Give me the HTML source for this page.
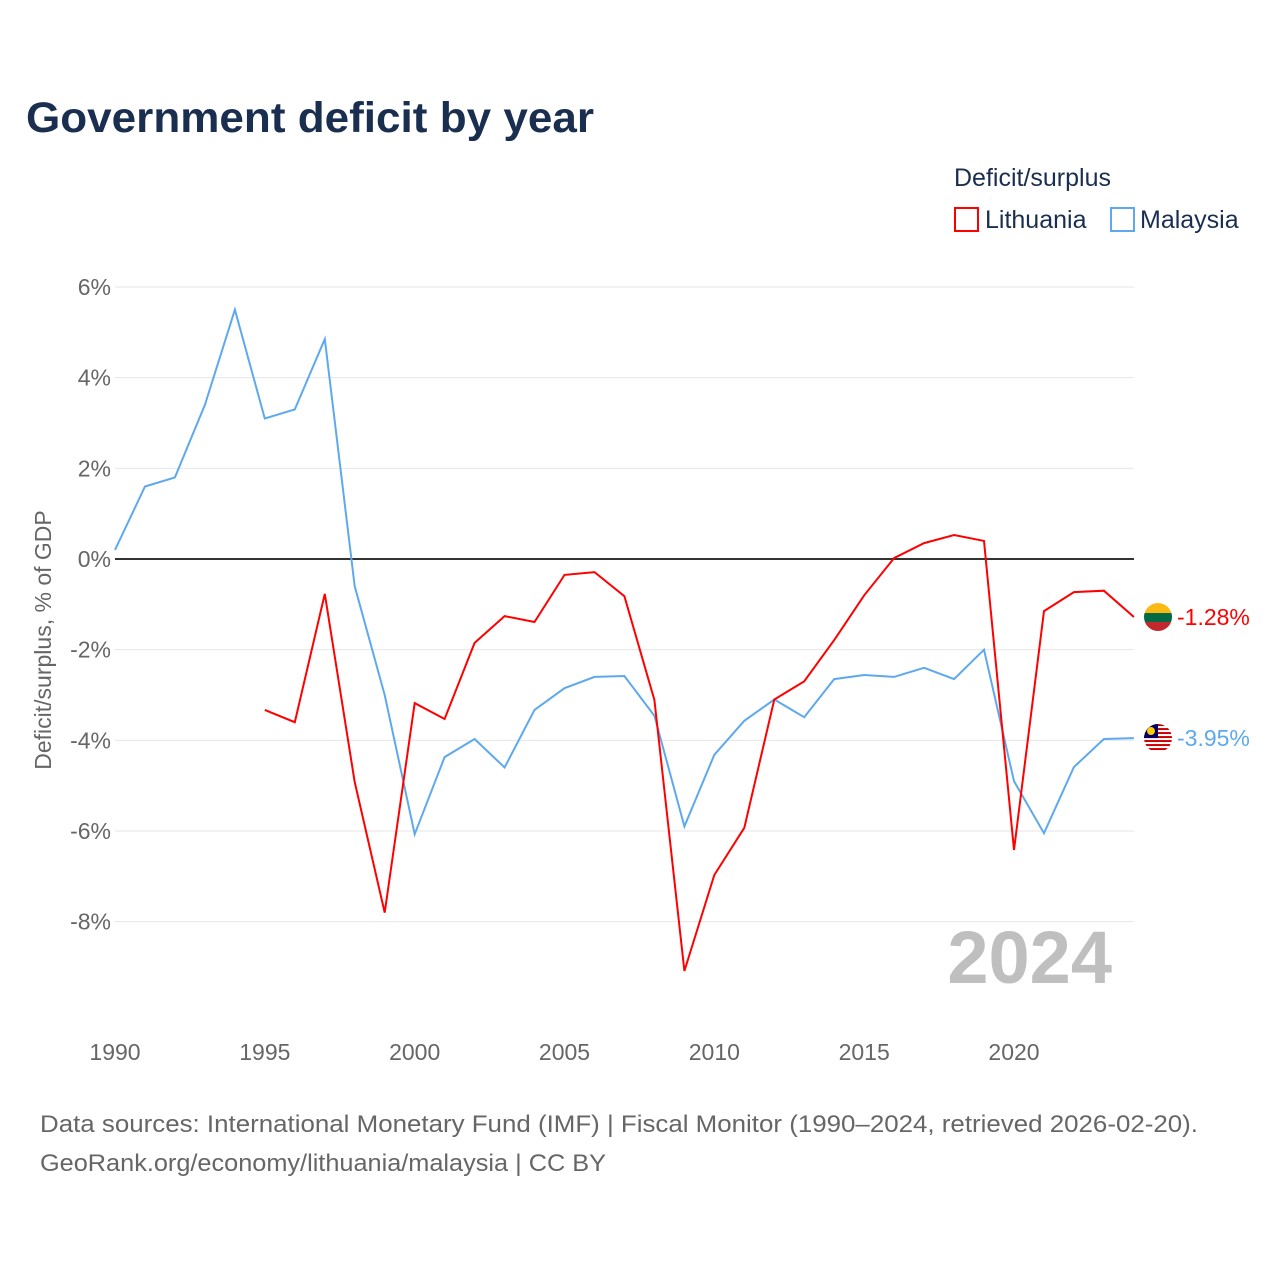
<!DOCTYPE html>
<html><head><meta charset="utf-8"><style>
body{margin:0;background:#fff;font-family:"Liberation Sans",sans-serif}
svg text{font-family:"Liberation Sans",sans-serif}
</style></head><body>
<svg id="c" width="1280" height="1280" viewBox="0 0 1280 1280">
<text x="26" y="132" font-size="43" font-weight="bold" fill="#1a2e4f" textLength="568" lengthAdjust="spacingAndGlyphs">Government deficit by year</text>
<g>
<text x="954" y="186" font-size="25" fill="#1a2e4f">Deficit/surplus</text>
<g><rect x="955" y="208" width="23" height="23" fill="none" stroke="#ff0000" stroke-width="2"/><text x="985" y="228" font-size="25" fill="#1a2e4f">Lithuania</text></g>
<g><rect x="1111" y="208" width="23" height="23" fill="none" stroke="#5ea9ee" stroke-width="2"/><text x="1140" y="228" font-size="25" fill="#1a2e4f">Malaysia</text></g>
</g>
<g id="grid"></g><g id="yt"></g><g id="xt"></g><g id="lines"></g>
<text x="1112" y="983" text-anchor="end" font-size="74" font-weight="bold" fill="#bfbfbf">2024</text>
<text transform="translate(51,640) rotate(-90)" text-anchor="middle" font-size="23" fill="#666">Deficit/surplus, % of GDP</text>
<text x="40" y="1132" font-size="24" fill="#666" textLength="1158" lengthAdjust="spacingAndGlyphs">Data sources: International Monetary Fund (IMF) | Fiscal Monitor (1990–2024, retrieved 2026-02-20).</text>
<text x="40" y="1171" font-size="24" fill="#666" textLength="566" lengthAdjust="spacingAndGlyphs">GeoRank.org/economy/lithuania/malaysia | CC BY</text>
</svg>
<script>
const years=[];for(let y=1990;y<=2024;y++)years.push(y);
const malaysia=[0.2,1.6,1.8,3.4,5.5,3.1,3.3,4.85,-0.6,-3.0,-6.07,-4.37,-3.97,-4.6,-3.33,-2.85,-2.6,-2.58,-3.46,-5.9,-4.32,-3.57,-3.1,-3.49,-2.65,-2.56,-2.6,-2.4,-2.65,-2.0,-4.9,-6.05,-4.59,-3.97,-3.95];
const lithuania=[null,null,null,null,null,-3.33,-3.6,-0.77,-4.92,-7.8,-3.18,-3.53,-1.85,-1.26,-1.39,-0.35,-0.29,-0.82,-3.11,-9.09,-6.97,-5.93,-3.1,-2.7,-1.79,-0.8,0.02,0.35,0.53,0.4,-6.42,-1.15,-0.73,-0.7,-1.28];
const yTicks=[6,4,2,0,-2,-4,-6,-8];
const xTicks=[1990,1995,2000,2005,2010,2015,2020];
const X=y=>115+(y-1990)*29.967, Y=v=>559-v*45.33;
const NS="http://www.w3.org/2000/svg";
function mk(p,t,a){const e=document.createElementNS(NS,t);for(const k in a)e.setAttribute(k,a[k]);document.getElementById(p).appendChild(e);return e;}
yTicks.forEach(v=>{
 const l=mk('grid','line',{x1:115,x2:1134,y1:Y(v),y2:Y(v),stroke:v===0?'#333':'#e6e6e6','stroke-width':v===0?2:1});
 
 
 const t=mk('yt','text',{x:111,y:Y(v)+8,'text-anchor':'end','font-size':23,fill:'#666'});t.textContent=v+'%';
 
 
});
xTicks.forEach(v=>{
 const t=mk('xt','text',{x:X(v),y:1060,'text-anchor':'middle','font-size':23,fill:'#666'});t.textContent=v;
 
 
});
function line(data,col,name){
 let d='';data.forEach((v,i)=>{if(v===null)return;d+=(d?'L':'M')+X(years[i]).toFixed(1)+','+Y(v).toFixed(1);});
 const p=mk('lines','path',{d:d,fill:'none',stroke:col,'stroke-width':2});
 
 
 const last=data[data.length-1];
 const g=mk('lines','g',{});
 
 
 const cy=Y(last);
 if(name==='lithuania'){
  g.innerHTML=`<clipPath id="cl1"><circle cx="1158" cy="${cy}" r="14"/></clipPath><g clip-path="url(#cl1)"><rect x="1144" y="${cy-14}" width="28" height="10" fill="#fdb913"/><rect x="1144" y="${cy-4}" width="28" height="9" fill="#006a44"/><rect x="1144" y="${cy+5}" width="28" height="10" fill="#c1272d"/></g>`;
 }else{
  let s='';for(let i=0;i<7;i++)s+=`<rect x="1144" y="${cy-14+i*4}" width="28" height="2" fill="#cc0001"/>`;
  g.innerHTML=`<clipPath id="cl2"><circle cx="1158" cy="${cy}" r="14"/></clipPath><g clip-path="url(#cl2)"><rect x="1144" y="${cy-14}" width="28" height="28" fill="#fff"/>${s}<rect x="1144" y="${cy-14}" width="14" height="14" fill="#010066"/><circle cx="1151" cy="${cy-7}" r="4" fill="#fc0"/></g>`;
 }
 const t=mk('lines','text',{x:1177,y:cy+8,'font-size':23,fill:col});t.textContent=last.toFixed(2)+'%';
 
 
}
line(malaysia,'#5ea9ee','malaysia');
line(lithuania,'#ff0000','lithuania');
</script>
</body></html>
